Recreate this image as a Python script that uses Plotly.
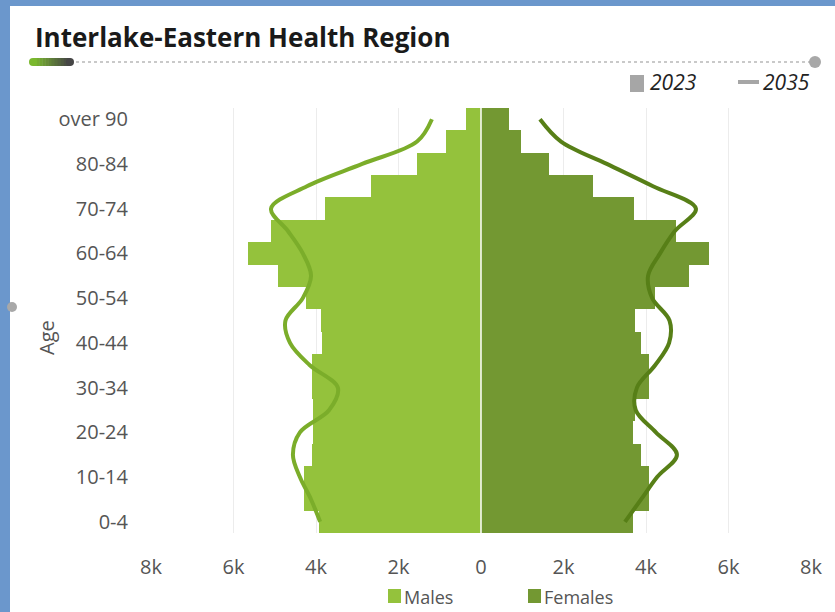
import plotly.graph_objects as go

# ---------------- data ----------------
age_groups = ["0-4", "5-9", "10-14", "15-19", "20-24", "25-29", "30-34", "35-39",
              "40-44", "45-49", "50-54", "55-59", "60-64", "65-69", "70-74",
              "75-79", "80-84", "85-89", "over 90"]

males_2023 = [3930, 4290, 4300, 4100, 4070, 4070, 4100, 4100, 3850, 3880,
              4240, 4920, 5650, 5090, 3780, 2670, 1550, 850, 360]
females_2023 = [3680, 4070, 4070, 3880, 3680, 3730, 4070, 4070, 3880, 3730,
                4220, 5040, 5530, 4730, 3710, 2720, 1650, 970, 680]

males_2035 = [3900, 4120, 4390, 4560, 4390, 3680, 3470, 4150, 4630, 4740,
              4320, 4120, 4320, 4680, 5090, 4220, 2880, 1550, 1190]
females_2035 = [3490, 3880, 4270, 4750, 4240, 3750, 3780, 4220, 4560, 4570,
                4150, 4050, 4340, 4700, 5210, 4170, 3050, 1940, 1430]

x_tick_vals = [-8000, -6000, -4000, -2000, 0, 2000, 4000, 6000, 8000]
x_tick_text = ["8k", "6k", "4k", "2k", "0", "2k", "4k", "6k", "8k"]
y_tick_labels = ["0-4", "10-14", "20-24", "30-34", "40-44", "50-54",
                 "60-64", "70-74", "80-84", "over 90"]

# ---------------- style ----------------
W, H = 835, 612
L, R, T, B = 151, 811, 108, 533
MALE_C = "#94c23c"
FEMALE_C = "#739832"
MALE_LINE = "#7bad2a"
FEMALE_LINE = "#577f17"
BLUE = "#6b97cc"
FONT = "Open Sans"


def px(xp):
    return (xp - L) / (R - L)


def py(yp):
    return (B - yp) / (B - T)


fig = go.Figure()

fig.add_trace(go.Bar(y=age_groups, x=[-v for v in males_2023], orientation="h",
                     marker=dict(color=MALE_C, line=dict(width=0)),
                     name="Males", showlegend=False, hoverinfo="skip"))
fig.add_trace(go.Bar(y=age_groups, x=females_2023, orientation="h",
                     marker=dict(color=FEMALE_C, line=dict(width=0)),
                     name="Females", showlegend=False, hoverinfo="skip"))
fig.add_trace(go.Scatter(y=age_groups, x=[-v for v in males_2035], mode="lines",
                         line=dict(color=MALE_LINE, width=4, shape="spline", smoothing=1.0),
                         showlegend=False, hoverinfo="skip"))
fig.add_trace(go.Scatter(y=age_groups, x=females_2035, mode="lines",
                         line=dict(color=FEMALE_LINE, width=4, shape="spline", smoothing=1.0),
                         showlegend=False, hoverinfo="skip"))

shapes = []
# white card over blue background
shapes.append(dict(type="rect", xref="paper", yref="paper", layer="below",
                   x0=px(10), x1=px(W + 5), y0=py(H + 5), y1=py(6),
                   fillcolor="white", line=dict(width=0)))
# dotted line under title
shapes.append(dict(type="line", xref="paper", yref="paper",
                   x0=px(70), x1=px(812), y0=py(62), y1=py(62),
                   line=dict(color="#b8b8b8", width=1.5, dash="dot")))
# pill gradient (approximated by segments)
n_seg = 12
c0 = (122, 184, 46)
c1 = (70, 70, 70)
for i in range(n_seg):
    t = i / (n_seg - 1)
    c = tuple(int(c0[k] + (c1[k] - c0[k]) * t) for k in range(3))
    xa = 33 + (70 - 33) * i / n_seg
    xb = 33 + (70 - 33) * (i + 1) / n_seg
    shapes.append(dict(type="rect", xref="paper", yref="paper",
                       x0=px(xa), x1=px(xb + 0.5), y0=py(66), y1=py(58),
                       fillcolor="rgb(%d,%d,%d)" % c, line=dict(width=0)))
shapes.append(dict(type="circle", xref="paper", yref="paper",
                   x0=px(29), x1=px(37), y0=py(66), y1=py(58),
                   fillcolor="rgb(122,184,46)", line=dict(width=0)))
shapes.append(dict(type="circle", xref="paper", yref="paper",
                   x0=px(66), x1=px(74), y0=py(66), y1=py(58),
                   fillcolor="rgb(70,70,70)", line=dict(width=0)))
# grey end circle
shapes.append(dict(type="circle", xref="paper", yref="paper",
                   x0=px(809), x1=px(821), y0=py(68), y1=py(56),
                   fillcolor="#a8a8a8", line=dict(width=0)))
# grey handle on left edge
shapes.append(dict(type="circle", xref="paper", yref="paper",
                   x0=px(7), x1=px(17), y0=py(312), y1=py(302),
                   fillcolor="#a8a8a8", line=dict(width=0)))
# top legend glyphs
shapes.append(dict(type="rect", xref="paper", yref="paper",
                   x0=px(630), x1=px(644), y0=py(92), y1=py(75),
                   fillcolor="#a6a6a6", line=dict(width=0)))
shapes.append(dict(type="line", xref="paper", yref="paper",
                   x0=px(738), x1=px(759), y0=py(82), y1=py(82),
                   line=dict(color="#a6a6a6", width=4)))
# bottom legend squares
shapes.append(dict(type="rect", xref="paper", yref="paper",
                   x0=px(388), x1=px(401), y0=py(603), y1=py(589),
                   fillcolor=MALE_C, line=dict(width=0)))
shapes.append(dict(type="rect", xref="paper", yref="paper",
                   x0=px(528), x1=px(541), y0=py(603), y1=py(589),
                   fillcolor=FEMALE_C, line=dict(width=0)))
# white separator at zero
shapes.append(dict(type="line", xref="x", yref="paper", x0=0, x1=0, y0=0, y1=1,
                   line=dict(color="white", width=1.5), layer="above"))

annotations = [
    dict(text="<b>Interlake-Eastern Health Region</b>", xref="paper", yref="paper",
         x=px(33), y=py(37), xanchor="left", yanchor="middle", showarrow=False,
         font=dict(family=FONT, size=26, color="#1a1a1a")),
    dict(text="<i>2023</i>", xref="paper", yref="paper", x=px(648), y=py(82),
         xanchor="left", yanchor="middle", showarrow=False,
         font=dict(family=FONT, size=21, color="#222")),
    dict(text="<i>2035</i>", xref="paper", yref="paper", x=px(761), y=py(82),
         xanchor="left", yanchor="middle", showarrow=False,
         font=dict(family=FONT, size=21, color="#222")),
    dict(text="Males", xref="paper", yref="paper", x=px(402), y=py(597),
         xanchor="left", yanchor="middle", showarrow=False,
         font=dict(family=FONT, size=18, color="#555")),
    dict(text="Females", xref="paper", yref="paper", x=px(542), y=py(597),
         xanchor="left", yanchor="middle", showarrow=False,
         font=dict(family=FONT, size=18, color="#555")),
    dict(text="Age", xref="paper", yref="paper", x=px(46), y=py(338),
         xanchor="center", yanchor="middle", showarrow=False, textangle=-90,
         font=dict(family=FONT, size=20, color="#555")),
]

fig.update_layout(
    width=W, height=H,
    margin=dict(l=L, r=W - R, t=T, b=H - B, pad=0),
    paper_bgcolor=BLUE, plot_bgcolor="white",
    barmode="overlay", bargap=0,
    showlegend=False,
    shapes=shapes, annotations=annotations,
    font=dict(family=FONT, color="#555"),
    xaxis=dict(range=[-8000, 8000], tickvals=x_tick_vals, ticktext=x_tick_text,
               showgrid=True, gridcolor="#ececec", gridwidth=1, zeroline=False,
               showline=False, ticks="", tickfont=dict(size=20, color="#555"),
               ticklabelstandoff=20, fixedrange=True),
    yaxis=dict(type="category", categoryorder="array", categoryarray=age_groups,
               range=[-0.5, len(age_groups) - 0.5],
               tickmode="array", tickvals=y_tick_labels, ticktext=y_tick_labels,
               showgrid=False, zeroline=False, showline=False, ticks="",
               ticklabelstandoff=22,
               tickfont=dict(size=20, color="#555"),
               fixedrange=True),
)

fig.write_html("out.html",
               config={"displayModeBar": False},
               post_script="document.body.style.margin='0';document.body.style.overflow='hidden';")
